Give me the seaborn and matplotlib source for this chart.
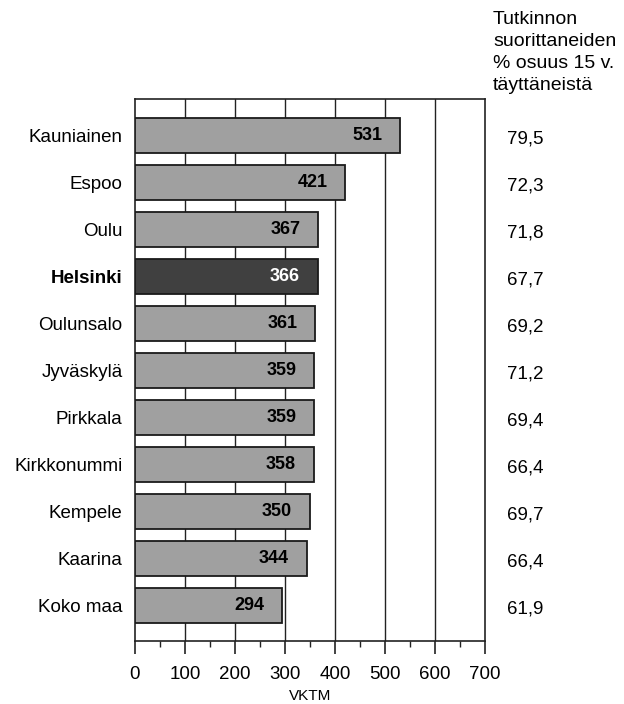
import matplotlib
matplotlib.use("Agg")
import matplotlib.pyplot as plt
import seaborn as sns
import pandas as pd
from matplotlib.ticker import MultipleLocator
import matplotlib.transforms as mtransforms

cities = ["Kauniainen", "Espoo", "Oulu", "Helsinki", "Oulunsalo", "Jyväskylä",
          "Pirkkala", "Kirkkonummi", "Kempele", "Kaarina", "Koko maa"]
vktm = [531, 421, 367, 366, 361, 359, 359, 358, 350, 344, 294]
share = ["79,5", "72,3", "71,8", "67,7", "69,2", "71,2", "69,4", "66,4", "69,7", "66,4", "61,9"]
highlight = "Helsinki"
x_ticks = [0, 100, 200, 300, 400, 500, 600, 700]

sns.set_theme(style="white")
plt.rcParams['font.family'] = ['Liberation Sans', 'DejaVu Sans']
plt.rcParams['text.color'] = 'black'
plt.rcParams['axes.labelcolor'] = 'black'
plt.rcParams['xtick.color'] = 'black'
plt.rcParams['ytick.color'] = 'black'

df = pd.DataFrame({"city": cities, "vktm": vktm})
palette = {c: ("#404040" if c == highlight else "#A0A0A0") for c in cities}

fig = plt.figure(figsize=(6.24, 7.04), dpi=100)
ax = fig.add_axes([0.2163, 0.0895, 0.5609, 0.7699])

sns.barplot(data=df, x="vktm", y="city", hue="city", palette=palette, legend=False,
            ax=ax, width=0.74, edgecolor="#1a1a1a", linewidth=1.3, saturation=1, zorder=3)

ax.set_xlim(0, 700)
ax.set_ylim(10.76, -0.77)
ax.set_xticks(x_ticks)
ax.xaxis.set_minor_locator(MultipleLocator(50))
ax.set_axisbelow(True)
for t in x_ticks[1:-1]:
    ax.axvline(t, color="#222222", lw=1.0, zorder=1)

for s in ax.spines.values():
    s.set_color("#222222")
    s.set_linewidth(1.2)

ax.tick_params(axis="x", which="major", direction="out", length=9, width=1.2,
               color="#222222", labelcolor="black", labelsize=13.5, pad=9, bottom=True)
ax.tick_params(axis="x", which="minor", direction="out", length=4, width=1.0,
               color="#222222", bottom=True)
ax.tick_params(axis="y", length=0, pad=9, labelsize=13.5, labelcolor="black")
ax.set_ylabel("")
ax.set_xlabel("VKTM", fontsize=11, labelpad=4, color="black")

for lab in ax.get_yticklabels():
    if lab.get_text() == highlight:
        lab.set_fontweight("bold")

for i, (c, v) in enumerate(zip(cities, vktm)):
    ax.annotate(str(v), xy=(v, i), xytext=(-13, 0), textcoords="offset points",
                ha="right", va="center", fontsize=13, fontweight="bold",
                color="white" if c == highlight else "black", zorder=5)

trans = mtransforms.blended_transform_factory(ax.transAxes, ax.transData)
for i, s in enumerate(share):
    ax.text(1.063, i + 0.08, s, transform=trans, ha="left", va="center",
            fontsize=13.5, color="black")

fig.text(493 / 624, 1 - 11 / 704, "Tutkinnon\nsuorittaneiden\n% osuus 15 v.\ntäyttäneistä",
         ha="left", va="top", fontsize=14, linespacing=1.38, color="black")

fig.savefig("out.png", dpi=100)
